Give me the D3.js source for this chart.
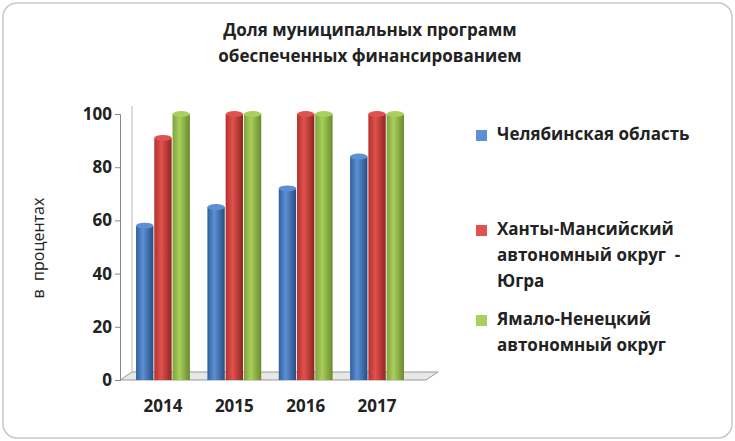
<!DOCTYPE html>
<html><head><meta charset="utf-8">
<script src="https://cdn.jsdelivr.net/npm/d3@7"></script>
<style>body{margin:0;background:#fff}text{font-family:"Open Sans","Liberation Sans",Arial,sans-serif}</style>
</head><body><div id="chart"></div>
<script>
const YEARS = ["2014", "2015", "2016", "2017"];
const SERIES = ["Челябинская область", "Ханты-Мансийский автономный округ  - Югра", "Ямало-Ненецкий автономный округ"];
const CHEL = [58, 65, 72, 84];
const HMAO = [91, 100, 100, 100];
const YANAO = [100, 100, 100, 100];
const Y_TICKS = [0, 20, 40, 60, 80, 100];
const COLORS = [["#2e5f9e", "#5d8fd4", "#244d82"], ["#b3302c", "#e0524d", "#8e2522"], ["#7ea23a", "#a9cf5c", "#6a8a2e"]];

const WIDTH = 735, HEIGHT = 441;
const svg = d3.select("#chart").append("svg").attr("width", WIDTH).attr("height", HEIGHT);

svg.append("rect").attr("x", 3).attr("y", 3).attr("width", WIDTH - 6).attr("height", HEIGHT - 6)
   .attr("rx", 14).attr("fill", "#fff").attr("stroke", "#c8c8c8").attr("stroke-width", 1.5);

const defs = svg.append("defs");
COLORS.forEach((c, i) => {
  const g = defs.append("linearGradient").attr("id", "g" + i);
  g.append("stop").attr("offset", "0%").attr("stop-color", c[0]);
  g.append("stop").attr("offset", "40%").attr("stop-color", c[1]);
  g.append("stop").attr("offset", "100%").attr("stop-color", c[2]);
});

const Y_SCALE = d3.scaleLinear().domain([0, 100]).range([380, 114]);
const X_SCALE = d3.scaleBand().domain(YEARS).range([128, 412]).paddingInner(0.22).paddingOuter(0.1);
const INNER = d3.scaleBand().domain([0, 1, 2]).range([0, X_SCALE.bandwidth()]).padding(0.05);

// floor and back wall
svg.append("path").attr("d", "M120,380 L132,372 L438,372 L426,380 Z").attr("fill", "#e8e8e8").attr("stroke", "#999");
svg.append("line").attr("x1", 132).attr("x2", 132).attr("y1", 106).attr("y2", 372).attr("stroke", "#bbb");

const Y_AXIS = d3.axisLeft(Y_SCALE).tickValues(Y_TICKS).tickSize(5);
svg.append("g").attr("transform", "translate(120,0)").call(Y_AXIS)
   .call(g => g.selectAll("text").attr("font-size", 17).attr("font-weight", "bold").attr("fill", "#222"))
   .call(g => g.selectAll("line,path").attr("stroke", "#888"));

const X_AXIS = d3.axisBottom(X_SCALE).tickSize(0).tickPadding(20);
svg.append("g").attr("transform", "translate(0,380)").call(X_AXIS)
   .call(g => g.select("path").remove())
   .call(g => g.selectAll("text").attr("font-size", 17).attr("font-weight", "bold").attr("fill", "#222"));

[CHEL, HMAO, YANAO].forEach((vals, s) => {
  svg.append("g").selectAll("g").data(vals).enter().append("g").each(function (d, i) {
    const x = X_SCALE(YEARS[i]) + INNER(s), w = INNER.bandwidth();
    const gg = d3.select(this);
    gg.append("rect").attr("x", x).attr("y", Y_SCALE(d)).attr("width", w)
      .attr("height", Y_SCALE(0) - Y_SCALE(d)).attr("fill", "url(#g" + s + ")");
    gg.append("ellipse").attr("cx", x + w / 2).attr("cy", Y_SCALE(d)).attr("rx", w / 2).attr("ry", 3)
      .attr("fill", COLORS[s][1]);
  });
});

svg.append("text").attr("transform", "translate(44,248) rotate(-90)").attr("text-anchor", "middle")
   .attr("font-size", 16).attr("fill", "#222").attr("xml:space", "preserve").text("в  процентах");

svg.append("text").attr("x", 370).attr("y", 36).attr("text-anchor", "middle").attr("font-size", 17)
   .attr("font-weight", "bold").attr("fill", "#222").text("Доля муниципальных программ");
svg.append("text").attr("x", 370).attr("y", 62).attr("text-anchor", "middle").attr("font-size", 17)
   .attr("font-weight", "bold").attr("fill", "#222").text("обеспеченных финансированием");

const LEGEND = [
  { y: 140, lines: ["Челябинская область"] },
  { y: 235, lines: ["Ханты-Мансийский", "автономный округ  -", "Югра"] },
  { y: 325, lines: ["Ямало-Ненецкий", "автономный округ"] }
];
LEGEND.forEach((l, i) => {
  svg.append("rect").attr("x", 476).attr("y", l.y - 10).attr("width", 11).attr("height", 11).attr("fill", COLORS[i][1]);
  const t = svg.append("text").attr("x", 497).attr("y", l.y).attr("font-size", 17).attr("font-weight", "bold")
     .attr("fill", "#222").attr("xml:space", "preserve");
  l.lines.forEach((s, k) => t.append("tspan").attr("x", 497).attr("dy", k ? 26 : 0).text(s));
});
</script></body></html>
